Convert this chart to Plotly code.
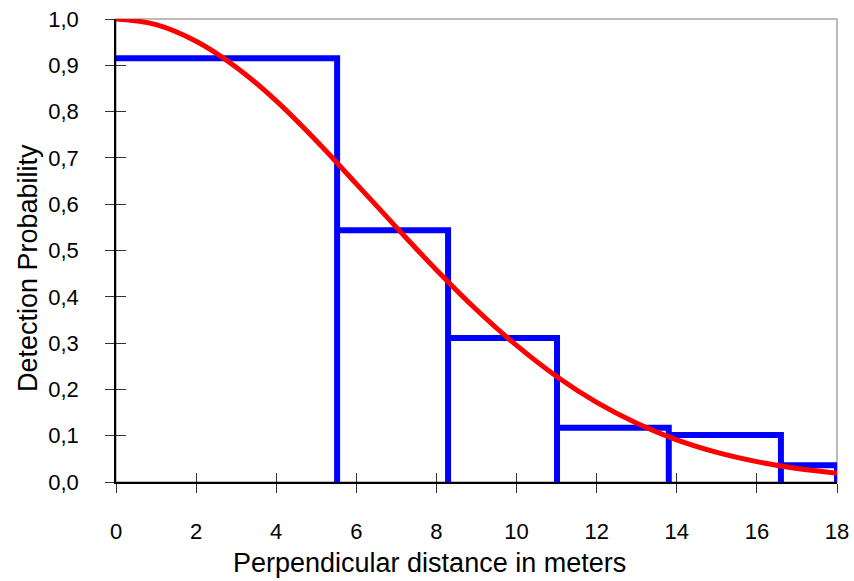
import plotly.graph_objects as go

# Histogram of detection proportions (bin edges and heights)
bin_edges = [0, 5.52, 8.29, 11.01, 13.80, 16.60, 18.0]
bin_heights = [0.915, 0.544, 0.311, 0.117, 0.1015, 0.036]

# Fitted detection curve
curve_x = [0, 1, 2, 3, 4, 5, 6, 7, 8, 9, 10, 11, 12, 13, 14, 15, 16, 17, 18]
curve_y = [1.000, 0.988, 0.952, 0.896, 0.823, 0.737, 0.644, 0.550, 0.458, 0.372,
           0.295, 0.228, 0.172, 0.127, 0.091, 0.064, 0.044, 0.029, 0.019]

x_ticks = [0, 2, 4, 6, 8, 10, 12, 14, 16, 18]
y_ticks = [0.0, 0.1, 0.2, 0.3, 0.4, 0.5, 0.6, 0.7, 0.8, 0.9, 1.0]

x_title = "Perpendicular distance in meters"
y_title = "Detection Probability"

# Build the step outline from the bins
sx, sy = [bin_edges[0]], [bin_heights[0]]
for i, h in enumerate(bin_heights):
    sx += [bin_edges[i], bin_edges[i + 1], bin_edges[i + 1]]
    sy += [h, h, 0]

fig = go.Figure()
fig.add_trace(go.Scatter(x=sx, y=sy, mode="lines",
                         line=dict(color="#0000FF", width=6), hoverinfo="skip"))
fig.add_trace(go.Scatter(x=curve_x, y=curve_y, mode="lines",
                         line=dict(color="#FF0000", width=5, shape="spline", smoothing=1.0)))
# invisible trace to activate overlay axes
fig.add_trace(go.Scatter(x=[0], y=[0], xaxis="x2", yaxis="y2", mode="markers",
                         marker=dict(opacity=0), hoverinfo="skip", showlegend=False))

FAM = "Liberation Sans, Arial, sans-serif"
tickfont = dict(family=FAM, size=22, color="#000000")
xtitlefont = dict(family=FAM, size=27, color="#000000")
ytitlefont = dict(family=FAM, size=27, color="#000000")

fig.update_layout(
    width=854, height=581,
    autosize=False,
    margin=dict(l=116, r=17, t=19, b=99, autoexpand=False),
    paper_bgcolor="white", plot_bgcolor="white",
    showlegend=False,
    separators=", ",
    font=tickfont,
    xaxis=dict(range=[0, 18], tickvals=x_ticks, showgrid=False, zeroline=False,
               showline=True, linecolor="#000000", linewidth=1.5, automargin=False,
               ticks="outside", ticklen=9, tickcolor="#333333", tickwidth=1,
               tickfont=tickfont, ticklabelstandoff=20, ticklabeloverflow="allow"),
    yaxis=dict(range=[0, 1.0], tickvals=y_ticks, tickformat=".1f", showgrid=False,
               zeroline=False, showline=True, linecolor="#000000", linewidth=1.5,
               automargin=False,
               ticks="outside", ticklen=9, tickcolor="#333333", tickwidth=1,
               tickfont=tickfont, ticklabelstandoff=22, ticklabeloverflow="allow"),
    xaxis2=dict(range=[0, 18], tickvals=x_ticks, overlaying="x", anchor="y", side="bottom",
                showticklabels=False, showgrid=False, zeroline=False, showline=False,
                automargin=False,
                ticks="inside", ticklen=9, tickcolor="#333333", tickwidth=1),
    yaxis2=dict(range=[0, 1.0], tickvals=y_ticks, overlaying="y", anchor="x", side="left",
                showticklabels=False, showgrid=False, zeroline=False, showline=False,
                automargin=False,
                ticks="inside", ticklen=10, tickcolor="#333333", tickwidth=1),
    shapes=[dict(type="rect", xref="paper", yref="paper", x0=0, x1=1, y0=0, y1=1,
                 line=dict(color="#A6A6A6", width=1.5), layer="below")],
    annotations=[
        dict(text=x_title, xref="paper", yref="paper", x=0.4355, y=-0.176,
             xanchor="center", yanchor="middle", showarrow=False, font=xtitlefont),
        dict(text=y_title, xref="paper", yref="paper", x=-0.1227, y=0.461,
             xanchor="center", yanchor="middle", textangle=-90, showarrow=False,
             font=ytitlefont),
    ],
)

# remove the default page margin so the 854x581 figure fills the window exactly
fig.write_html("out.html",
               config={"displayModeBar": False},
               post_script="document.body.style.margin='0';"
                           "document.documentElement.style.overflow='hidden';"
                           "document.body.style.overflow='hidden';")
